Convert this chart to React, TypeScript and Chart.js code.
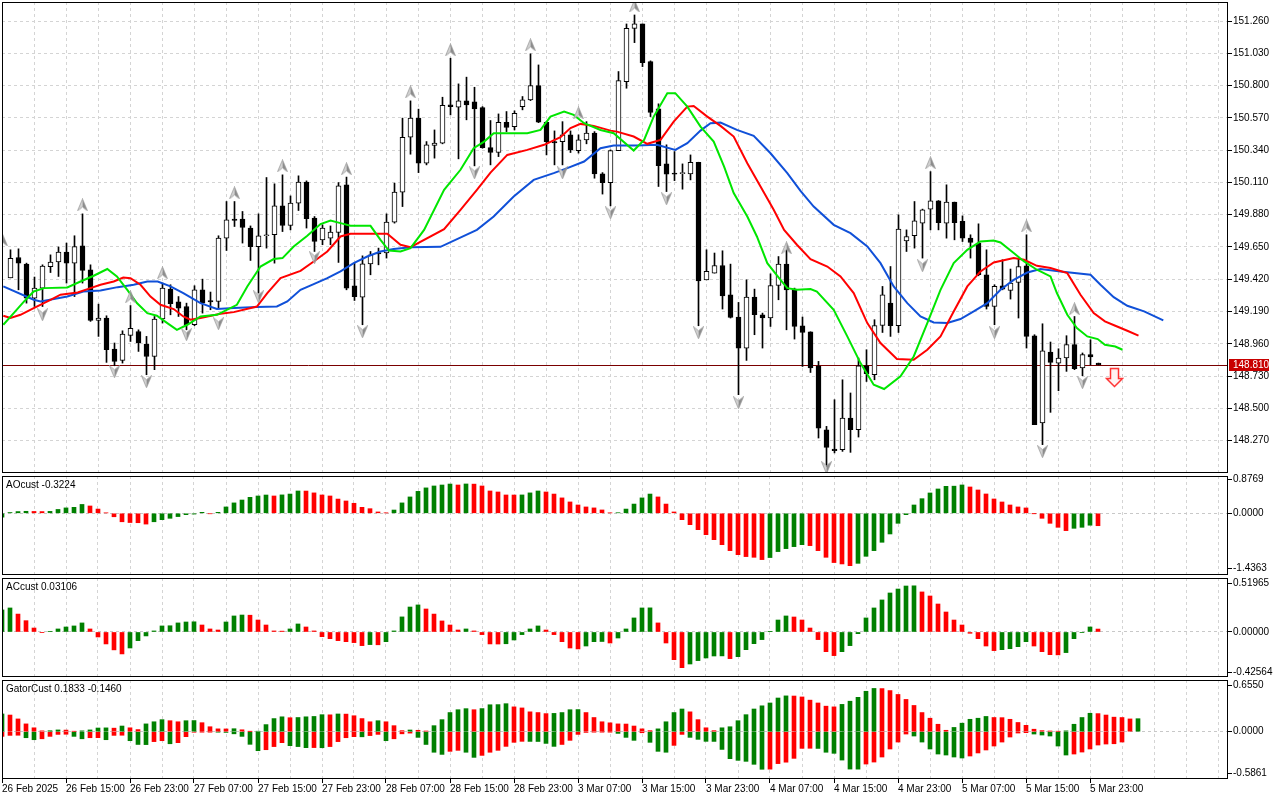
import React, { useEffect, useRef } from 'react';
import { Chart, registerables } from 'chart.js';

Chart.register(...registerables);

// ---------------- data ----------------
// hourly bars, bar 0 = 26 Feb 08:00, bar 136 = 6 Mar 00:00
const timeLabels = ['26 Feb 2025', '26 Feb 15:00', '26 Feb 23:00', '27 Feb 07:00', '27 Feb 15:00', '27 Feb 23:00', '28 Feb 07:00', '28 Feb 15:00', '28 Feb 23:00', '3 Mar 07:00', '3 Mar 15:00', '3 Mar 23:00', '4 Mar 07:00', '4 Mar 15:00', '4 Mar 23:00', '5 Mar 07:00', '5 Mar 15:00', '5 Mar 23:00'];

const candleOpen = [149.43, 149.575, 149.528, 149.286, 149.357, 149.51, 149.543, 149.614, 149.535, 149.658,
  149.488, 149.127, 149.144, 148.923, 148.842, 149.02, 149.048, 148.959, 148.87, 149.137,
  149.35, 149.26, 149.226, 149.096, 149.345, 149.269, 149.262, 149.713, 149.849, 149.849,
  149.784, 149.653, 149.73, 149.737, 149.943, 149.803, 149.962, 150.112, 149.856, 149.701,
  149.713, 149.753, 150.093, 149.374, 149.293, 149.53, 149.61, 149.607, 149.827, 150.041,
  150.432, 150.568, 150.247, 150.373, 150.39, 150.662, 150.646, 150.691, 150.684, 150.643,
  150.358, 150.323, 150.539, 150.508, 150.65, 150.698, 150.8, 150.539, 150.401, 150.401,
  150.449, 150.337, 150.413, 150.461, 150.171, 150.109, 150.337, 150.828, 151.208, 151.239,
  150.971, 150.634, 150.242, 150.176, 150.173, 150.171, 150.254, 149.416, 149.464, 149.518,
  149.31, 149.151, 148.93, 149.293, 149.167, 149.144, 149.376, 149.528, 149.35, 149.089,
  149.046, 148.799, 148.348, 148.211, 148.206, 148.432, 148.348, 148.804, 148.74, 149.091,
  149.25, 149.089, 149.694, 149.73, 149.82, 149.92, 149.979, 149.82, 149.97, 149.832,
  149.713, 149.678, 149.452, 149.226, 149.374, 149.34, 149.397, 149.516, 149.018, 148.396,
  148.902, 148.823, 148.859, 148.954, 148.788, 148.883, 148.823];

const candleHigh = [149.63, 149.637, 149.535, 149.436, 149.523, 149.594, 149.65, 149.678, 149.73, 149.886,
  149.523, 149.243, 149.16, 148.966, 149.053, 149.233, 149.06, 149.013, 149.155, 149.393,
  149.381, 149.297, 149.25, 149.374, 149.421, 149.329, 149.73, 149.974, 149.974, 149.903,
  149.8, 149.886, 150.145, 150.1, 150.164, 150.014, 150.157, 150.121, 149.867, 149.808,
  149.8, 150.109, 150.148, 149.535, 149.587, 149.618, 149.642, 149.886, 150.105, 150.568,
  150.691, 150.632, 150.401, 150.484, 150.717, 150.995, 150.812, 150.86, 150.788, 150.65,
  150.551, 150.598, 150.615, 150.62, 150.722, 151.026, 150.947, 150.543, 150.477, 150.543,
  150.477, 150.449, 150.543, 150.472, 150.18, 150.342, 150.9, 151.239, 151.303, 151.239,
  150.976, 150.67, 150.378, 150.33, 150.242, 150.306, 150.254, 149.63, 149.607, 149.623,
  149.528, 149.255, 149.416, 149.35, 149.179, 149.459, 149.582, 149.63, 149.357, 149.151,
  149.046, 148.835, 148.372, 148.562, 148.704, 148.61, 148.859, 148.918, 149.132, 149.369,
  149.511, 149.879, 149.772, 149.974, 149.92, 150.187, 149.981, 150.093, 149.97, 149.872,
  149.737, 149.815, 149.63, 149.381, 149.559, 149.493, 149.564, 149.737, 149.025, 149.103,
  148.973, 148.925, 149.018, 149.155, 148.895, 148.989, 148.823];

const candleLow = [149.43, 149.345, 149.25, 149.226, 149.226, 149.468, 149.44, 149.393, 149.297, 149.393,
  149.12, 149.013, 148.828, 148.804, 148.823, 148.977, 148.906, 148.74, 148.776, 149.108,
  149.167, 149.155, 149.06, 149.089, 149.179, 149.203, 149.215, 149.625, 149.796, 149.678,
  149.554, 149.322, 149.642, 149.535, 149.76, 149.772, 149.91, 149.785, 149.618, 149.666,
  149.666, 149.54, 149.345, 149.269, 149.096, 149.452, 149.523, 149.571, 149.82, 149.938,
  150.311, 150.18, 150.235, 150.283, 150.385, 150.591, 150.278, 150.556, 150.228, 150.354,
  150.235, 150.294, 150.472, 150.484, 150.627, 150.693, 150.536, 150.306, 150.235, 150.235,
  150.323, 150.319, 150.385, 150.14, 150.027, 149.943, 150.337, 150.781, 151.106, 150.935,
  150.579, 150.081, 150.045, 150.123, 150.062, 150.128, 149.089, 149.416, 149.464, 149.208,
  149.144, 148.598, 148.842, 149.025, 148.93, 149.084, 149.274, 149.06, 148.994, 148.799,
  148.756, 148.289, 148.087, 148.183, 148.194, 148.187, 148.296, 148.692, 148.704, 149.041,
  149.013, 149.041, 149.618, 149.642, 149.571, 149.772, 149.772, 149.713, 149.701, 149.689,
  149.571, 149.445, 149.208, 149.096, 149.345, 149.279, 149.144, 148.93, 148.384, 148.242,
  148.472, 148.626, 148.764, 148.776, 148.733, 148.81, 148.81];

const candleClose = [149.57, 149.535, 149.286, 149.357, 149.514, 149.543, 149.614, 149.535, 149.653, 149.483,
  149.127, 149.144, 148.918, 148.835, 149.03, 149.07, 148.966, 148.87, 149.137, 149.357,
  149.246, 149.215, 149.096, 149.345, 149.25, 149.258, 149.713, 149.844, 149.839, 149.789,
  149.653, 149.73, 149.737, 149.943, 149.803, 149.962, 150.112, 149.851, 149.689, 149.785,
  149.756, 150.086, 149.357, 149.297, 149.53, 149.594, 149.6, 149.827, 150.041, 150.432,
  150.568, 150.247, 150.378, 150.39, 150.66, 150.65, 150.691, 150.662, 150.634, 150.358,
  150.323, 150.539, 150.501, 150.603, 150.698, 150.8, 150.539, 150.401, 150.392, 150.449,
  150.342, 150.413, 150.461, 150.171, 150.109, 150.337, 150.835, 151.208, 151.239, 150.964,
  150.608, 150.23, 150.169, 150.169, 150.176, 150.254, 149.409, 149.476, 149.518, 149.302,
  149.148, 148.93, 149.293, 149.167, 149.144, 149.376, 149.528, 149.345, 149.084, 149.041,
  148.788, 148.36, 148.222, 148.199, 148.432, 148.348, 148.804, 148.747, 149.091, 149.31,
  149.089, 149.777, 149.725, 149.837, 149.915, 149.979, 149.824, 149.97, 149.824, 149.713,
  149.682, 149.452, 149.226, 149.369, 149.35, 149.393, 149.511, 149.013, 148.384, 148.911,
  148.828, 148.859, 148.954, 148.783, 148.883, 148.866, 148.81];

const lastPrice = 148.81;
const priceTicks = [148.27, 148.5, 148.73, 148.96, 149.19, 149.42, 149.65, 149.88, 150.11, 150.34, 150.57, 150.8, 151.03, 151.26];

// Alligator lines: [bar, price]
const lips: [number, number][] = [[-0.9, 149.096], [0.4, 149.179], [1.7, 149.262], [2.9, 149.333], [4.2, 149.357], [7.1, 149.362], [8.75, 149.404], [10.4, 149.445], [12.1, 149.493], [13.3, 149.44], [14.6, 149.345], [15.8, 149.251], [17.1, 149.179], [18.3, 149.16], [19.6, 149.108], [20.8, 149.06], [22.1, 149.096], [23.75, 149.155], [25.8, 149.167], [28.3, 149.238], [29.6, 149.369], [31.25, 149.511], [32.9, 149.564], [34, 149.571], [35.4, 149.654], [37.1, 149.73], [38.75, 149.813], [40, 149.839], [41.25, 149.82], [42.5, 149.801], [45, 149.801], [46.25, 149.701], [47.3, 149.625], [48.75, 149.618], [50, 149.642], [51.7, 149.772], [54.2, 150.057], [56.25, 150.2], [57.9, 150.354], [59.2, 150.401], [60.4, 150.461], [62.1, 150.461], [64.6, 150.461], [66.25, 150.484], [67.5, 150.579], [69.2, 150.615], [70.4, 150.591], [71.7, 150.532], [73.75, 150.484], [75.4, 150.461], [77.9, 150.337], [79.2, 150.413], [80.4, 150.579], [82.1, 150.746], [83.1, 150.746], [84.6, 150.65], [86.25, 150.508], [87.9, 150.401], [89.2, 150.223], [90.4, 150.034], [92.1, 149.867], [93.3, 149.725], [94.6, 149.535], [96.25, 149.416], [97.1, 149.357], [98.3, 149.345], [100, 149.35], [100.8, 149.333], [102.9, 149.203], [104.6, 149.013], [106.25, 148.823], [107.9, 148.669], [109.2, 148.638], [111.25, 148.728], [112.9, 148.87], [114.6, 149.108], [116.25, 149.345], [117.9, 149.535], [119.6, 149.63], [121.25, 149.689], [122.9, 149.696], [123.75, 149.682], [125.4, 149.607], [126.7, 149.547], [128.3, 149.488], [130, 149.44], [130.8, 149.322], [132.1, 149.167], [133.3, 149.072], [134.6, 149.013], [135.9, 148.994], [136.8, 148.954], [138.1, 148.941], [139, 148.918]];

const teeth: [number, number][] = [[-0.9, 149.16], [0, 149.144], [1.25, 149.167], [2.9, 149.215], [5, 149.274], [6.25, 149.31], [8.4, 149.326], [10, 149.357], [11.25, 149.381], [12.9, 149.404], [14.1, 149.433], [15, 149.428], [16.25, 149.381], [17.5, 149.297], [18.75, 149.238], [20.4, 149.208], [21.6, 149.155], [22.5, 149.132], [23.75, 149.144], [26.25, 149.174], [27.9, 149.186], [30.8, 149.226], [32.1, 149.322], [33.75, 149.428], [36.25, 149.48], [37.9, 149.547], [39.6, 149.618], [41.25, 149.725], [42.5, 149.744], [47.1, 149.744], [48.75, 149.666], [50, 149.649], [54.2, 149.777], [56.25, 149.915], [58.3, 150.057], [60, 150.18], [62.1, 150.306], [64.6, 150.342], [66.7, 150.378], [68.75, 150.432], [70, 150.497], [71.25, 150.527], [72.9, 150.513], [75, 150.479], [75.8, 150.472], [77.9, 150.437], [79.6, 150.385], [81.25, 150.413], [82.9, 150.543], [84.6, 150.65], [85.4, 150.655], [87.1, 150.579], [88.75, 150.513], [90.4, 150.437], [92.1, 150.247], [93.75, 150.081], [95.4, 149.915], [96.7, 149.772], [98.3, 149.666], [100, 149.564], [102.1, 149.511], [103.75, 149.44], [105.4, 149.322], [107.1, 149.108], [108.75, 148.966], [110.8, 148.852], [112.9, 148.847], [114.6, 148.918], [116.25, 149.013], [117.9, 149.191], [119.6, 149.369], [121.25, 149.476], [122.9, 149.54], [125.4, 149.571], [126.7, 149.559], [128.3, 149.516], [130, 149.5], [132.1, 149.464], [133.75, 149.31], [135.4, 149.179], [136.8, 149.12], [138.1, 149.089], [139.6, 149.053], [141, 149.018]];

const jaw: [number, number][] = [[-0.9, 149.369], [2.9, 149.274], [3.75, 149.262], [7.1, 149.297], [9.1, 149.333], [11.25, 149.34], [13.4, 149.364], [15.4, 149.381], [17.1, 149.404], [18.4, 149.404], [20, 149.369], [21.6, 149.322], [23.75, 149.25], [25.8, 149.208], [27.9, 149.215], [30.8, 149.222], [33.3, 149.226], [34.6, 149.262], [36.25, 149.345], [37.9, 149.386], [39.6, 149.428], [41.25, 149.476], [42.9, 149.535], [44.6, 149.582], [46.25, 149.618], [47.9, 149.635], [50, 149.649], [53.75, 149.651], [58.3, 149.772], [60.4, 149.867], [62.9, 150.01], [65.4, 150.128], [67.9, 150.176], [69.6, 150.212], [71.7, 150.259], [73.75, 150.354], [75.4, 150.373], [78.3, 150.373], [80.8, 150.378], [83.1, 150.342], [84.6, 150.39], [86.25, 150.479], [87.5, 150.532], [88.75, 150.536], [90.8, 150.484], [92.9, 150.442], [95, 150.318], [97.1, 150.176], [98.75, 150.05], [100.4, 149.938], [102.9, 149.808], [105, 149.749], [107.1, 149.654], [108.75, 149.535], [110.4, 149.369], [112.1, 149.25], [113.75, 149.155], [115.4, 149.112], [117.1, 149.108], [118.75, 149.137], [120.4, 149.191], [122.1, 149.25], [123.75, 149.345], [125.4, 149.416], [127.1, 149.468], [128.75, 149.493], [131.25, 149.476], [135, 149.452], [136.25, 149.381], [137.9, 149.293], [139.6, 149.231], [141.7, 149.191], [144.1, 149.127]];

// Fractal marks: [bar, price of the mark]
const fractalsUp: [number, number][] = [[-1, 149.7], [9, 149.95], [15, 149.295], [19, 149.466], [28, 150.036], [34, 150.228], [42, 150.207], [50, 150.755], [55, 151.054], [65, 151.09], [71, 150.605], [78, 151.367], [97, 149.644], [115, 150.25], [127, 149.8], [133, 149.21]];
const fractalsDown: [number, number][] = [[4, 149.167], [13, 148.761], [17, 148.69], [22, 149.025], [26, 149.103], [31, 149.295], [38, 149.573], [44, 149.046], [58, 150.178], [69, 150.178], [75, 149.893], [82, 149.993], [86, 149.039], [91, 148.54], [102, 148.078], [114, 149.516], [123, 149.039], [129, 148.192], [134, 148.683]];
const sellSignal: [number, number] = [138, 148.72];

// Indicator panes, first value at bar -1
const indicatorStart = -1;
const aoValues = [-0.10, 0.02, 0.045, 0.052, 0.048, 0.045, 0.05, 0.10, 0.14, 0.155,
  0.23, 0.19, 0.11, 0.01, -0.09, -0.22, -0.24, -0.245, -0.28, -0.22,
  -0.165, -0.13, -0.085, -0.035, -0.02, 0.025, -0.01, 0.025, 0.165, 0.27,
  0.345, 0.415, 0.45, 0.475, 0.45, 0.478, 0.50, 0.58, 0.578, 0.53,
  0.476, 0.45, 0.37, 0.32, 0.26, 0.155, 0.12, 0.035, 0.01, 0.085,
  0.27, 0.425, 0.57, 0.66, 0.71, 0.735, 0.76, 0.735, 0.762, 0.758,
  0.71, 0.58, 0.554, 0.476, 0.475, 0.477, 0.53, 0.58, 0.554, 0.50,
  0.40, 0.295, 0.216, 0.165, 0.14, 0.087, 0.01, 0.015, 0.11, 0.24,
  0.40, 0.50, 0.425, 0.24, 0.035, -0.165, -0.295, -0.425, -0.555, -0.685,
  -0.815, -0.97, -1.075, -1.125, -1.143, -1.203, -1.15, -0.995, -0.918, -0.866,
  -0.815, -0.84, -0.97, -1.143, -1.28, -1.316, -1.36, -1.30, -1.117, -0.97,
  -0.753, -0.537, -0.26, -0.035, 0.216, 0.38, 0.528, 0.632, 0.70, 0.705,
  0.736, 0.684, 0.606, 0.502, 0.372, 0.294, 0.216, 0.165, 0.139, -0.005,
  -0.13, -0.26, -0.364, -0.45, -0.39, -0.364, -0.31, -0.3224];

const acValues = [0.234, 0.255, 0.19, 0.12, 0.042, -0.007, 0.007, 0.032, 0.053, 0.064,
  0.096, 0.032, -0.053, -0.127, -0.19, -0.233, -0.17, -0.092, -0.042, 0.011,
  0.064, 0.066, 0.096, 0.106, 0.108, 0.074, 0.032, 0.021, 0.106, 0.17,
  0.18, 0.178, 0.127, 0.074, 0.011, 0.009, 0.032, 0.085, 0.053, 0.011,
  -0.05, -0.071, -0.092, -0.103, -0.113, -0.145, -0.134, -0.136, -0.103, 0.011,
  0.16, 0.265, 0.287, 0.244, 0.19, 0.117, 0.074, 0.021, 0.032, 0.011,
  -0.028, -0.127, -0.128, -0.125, -0.085, -0.028, 0.032, 0.064, 0.021, -0.028,
  -0.103, -0.17, -0.18, -0.149, -0.103, -0.101, -0.117, -0.064, 0.032, 0.149,
  0.255, 0.256, 0.096, -0.117, -0.294, -0.379, -0.34, -0.304, -0.276, -0.255,
  -0.254, -0.283, -0.262, -0.188, -0.124, -0.081, 0.003, 0.127, 0.17, 0.159,
  0.127, 0.042, -0.081, -0.209, -0.251, -0.209, -0.145, -0.018, 0.149, 0.255,
  0.34, 0.414, 0.456, 0.488, 0.49, 0.425, 0.382, 0.297, 0.212, 0.127,
  0.074, -0.014, -0.071, -0.149, -0.198, -0.188, -0.177, -0.156, -0.103, -0.149,
  -0.209, -0.241, -0.243, -0.219, -0.071, -0.007, 0.053, 0.03106];

const gatorUpper = [0.25, 0.235, 0.18, 0.11, 0.055, 0.012, 0.014, 0.025, 0.023, 0.005,
  0.012, 0.025, 0.052, 0.054, 0.05, 0.08, 0.055, 0.03, 0.11, 0.14,
  0.17, 0.155, 0.14, 0.155, 0.157, 0.127, 0.07, 0.04, 0.039, 0.042,
  0.027, 0.003, 0.006, 0.10, 0.185, 0.21, 0.197, 0.2, 0.21, 0.215,
  0.24, 0.238, 0.25, 0.248, 0.225, 0.185, 0.14, 0.155, 0.14, 0.085,
  0.015, 0.024, 0.02, 0.01, 0.085, 0.17, 0.27, 0.31, 0.325, 0.31,
  0.326, 0.38, 0.382, 0.395, 0.35, 0.335, 0.28, 0.27, 0.255, 0.258,
  0.27, 0.31, 0.312, 0.27, 0.2, 0.14, 0.125, 0.11, 0.108, 0.08,
  0.04, 0.015, 0.04, 0.14, 0.27, 0.32, 0.28, 0.17, 0.055, 0.015,
  0.055, 0.07, 0.155, 0.24, 0.32, 0.365, 0.405, 0.475, 0.505, 0.503,
  0.49, 0.445, 0.405, 0.36, 0.35, 0.385, 0.43, 0.485, 0.57, 0.61,
  0.608, 0.58, 0.525, 0.455, 0.37, 0.27, 0.19, 0.105, 0.02, 0.06,
  0.12, 0.175, 0.19, 0.215, 0.2, 0.198, 0.175, 0.13, 0.09, 0.035,
  0.015, 0.01, 0.005, 0.012, 0.105, 0.2, 0.26, 0.255, 0.235, 0.205,
  0.2, 0.18, 0.1833];

const gatorLower = [-0.066, -0.052, -0.05, -0.085, -0.113, -0.1, -0.066, -0.038, -0.036, -0.066,
  -0.1, -0.085, -0.084, -0.113, -0.052, -0.05, -0.127, -0.18, -0.182, -0.14,
  -0.127, -0.17, -0.155, -0.07, -0.008, -0.004, -0.003, -0.005, -0.01, -0.03,
  -0.066, -0.178, -0.268, -0.254, -0.21, -0.155, -0.197, -0.21, -0.225, -0.224,
  -0.226, -0.21, -0.14, -0.085, -0.07, -0.072, -0.055, -0.038, -0.127, -0.1,
  -0.03, -0.02, -0.08, -0.18, -0.29, -0.32, -0.277, -0.263, -0.29, -0.362,
  -0.334, -0.29, -0.263, -0.207, -0.15, -0.136, -0.137, -0.138, -0.165, -0.207,
  -0.18, -0.122, -0.038, -0.01, -0.005, -0.003, -0.002, -0.024, -0.08, -0.122,
  -0.015, -0.15, -0.277, -0.29, -0.193, -0.038, -0.08, -0.108, -0.136, -0.137,
  -0.25, -0.38, -0.404, -0.418, -0.46, -0.53, -0.528, -0.45, -0.43, -0.376,
  -0.235, -0.234, -0.236, -0.29, -0.305, -0.40, -0.527, -0.528, -0.456, -0.428,
  -0.357, -0.244, -0.146, -0.033, -0.061, -0.146, -0.244, -0.315, -0.329, -0.357,
  -0.371, -0.343, -0.3, -0.258, -0.202, -0.146, -0.075, -0.019, -0.014, -0.033,
  -0.047, -0.061, -0.202, -0.329, -0.315, -0.287, -0.244, -0.188, -0.174, -0.17,
  -0.146];

const aoTicks = [-1.4363, 0, 0.8769];
const acTicks = [-0.42564, 0, 0.51965];
const gatorTicks = [-0.5861, 0, 0.655];

// ---------------- styling ----------------
const W = 1280;
const AREA_LEFT = 2;
const AXIS_W = 52;
const PX_PER_BAR = 8;
const SPAN = (W - AREA_LEFT - AXIS_W) / PX_PER_BAR;
const GREEN = '#008000';
const RED = '#ff0000';
const GRID = '#d4d4d4';
const FAMILY = '"Liberation Sans", Arial, Helvetica, sans-serif';
const FONT = { family: FAMILY, size: 10 };
const gridBars = Array.from({ length: 40 }, (_, j) => -1 + 4 * j);

function xAxis(min: number, withLabels: boolean): any {
  return {
    type: 'linear',
    min,
    max: min + SPAN,
    offset: false,
    grid: {
      offset: false,
      color: GRID,
      lineWidth: 1,
      drawTicks: withLabels,
      tickLength: 4,
      tickBorderDash: [4, 0],
      tickColor: (c: any) => (c.index % 2 === 0 && c.index / 2 < timeLabels.length ? '#000' : 'rgba(0,0,0,0)'),
    },
    border: { display: false, dash: [3, 3] },
    ticks: {
      display: withLabels,
      autoSkip: false,
      maxRotation: 0,
      minRotation: 0,
      align: 'start',
      padding: 0,
      color: '#000',
      font: FONT,
      callback: (_v: any, i: number) => (i % 2 === 0 && i / 2 < timeLabels.length ? timeLabels[i / 2] : ''),
    },
    afterBuildTicks: (s: any) => {
      s.ticks = gridBars.filter((v) => v <= s.max).map((v) => ({ value: v }));
    },
    afterFit: (s: any) => {
      s.height = withLabels ? 21 : 0;
      s.paddingLeft = 0;
      s.paddingRight = 0;
    },
  };
}

function yAxis(min: number, max: number, tickVals: number[], digits: number, zeroOnly: boolean): any {
  return {
    type: 'linear',
    position: 'right',
    min,
    max,
    grid: {
      color: zeroOnly ? (c: any) => (c.tick && c.tick.value === 0 ? '#c8c8c8' : 'rgba(0,0,0,0)') : GRID,
      lineWidth: 1,
      drawTicks: true,
      tickLength: 4,
      tickBorderDash: [4, 0],
      tickColor: '#000',
      tickWidth: 1,
    },
    border: { display: false, dash: [3, 3] },
    ticks: {
      autoSkip: false,
      padding: 1,
      color: '#000',
      font: FONT,
      callback: (v: any) => Number(v).toFixed(digits),
    },
    afterBuildTicks: (s: any) => {
      s.ticks = tickVals.map((v) => ({ value: v }));
    },
    afterFit: (s: any) => {
      s.width = AXIS_W;
      s.paddingTop = 0;
      s.paddingBottom = 0;
    },
  };
}

const framePlugin = {
  id: 'paneFrame',
  afterDraw(chart: any) {
    const { ctx, chartArea: a } = chart;
    ctx.save();
    ctx.strokeStyle = '#000';
    ctx.lineWidth = 1;
    ctx.setLineDash([]);
    ctx.strokeRect(a.left + 0.5, a.top + 0.5, a.right - a.left - 1, a.bottom - a.top - 1);
    ctx.restore();
  },
};

function titlePlugin(text: string) {
  return {
    id: 'paneTitle',
    afterDraw(chart: any) {
      const { ctx, chartArea: a } = chart;
      ctx.save();
      ctx.font = `10px ${FAMILY}`;
      ctx.fillStyle = '#000';
      ctx.textBaseline = 'middle';
      ctx.textAlign = 'left';
      ctx.fillText(text, a.left + 4, a.top + 9);
      ctx.restore();
    },
  };
}

const priceLinePlugin = {
  id: 'priceLine',
  beforeDatasetsDraw(chart: any) {
    const { ctx, chartArea: a } = chart;
    const y = Math.round(chart.scales.y.getPixelForValue(lastPrice)) + 0.5;
    ctx.save();
    ctx.strokeStyle = '#7a0000';
    ctx.lineWidth = 1;
    ctx.beginPath();
    ctx.moveTo(a.left, y);
    ctx.lineTo(a.right, y);
    ctx.stroke();
    ctx.restore();
  },
  afterDraw(chart: any) {
    const { ctx, chartArea: a } = chart;
    const y = Math.round(chart.scales.y.getPixelForValue(lastPrice));
    ctx.save();
    ctx.fillStyle = '#c80000';
    ctx.fillRect(a.right + 1, y - 6, 40, 12);
    ctx.font = `10px ${FAMILY}`;
    ctx.fillStyle = '#fff';
    ctx.textBaseline = 'middle';
    ctx.textAlign = 'left';
    ctx.fillText(lastPrice.toFixed(3), a.right + 5, y + 0.5);
    ctx.restore();
  },
};

function makeFractalMark(down: boolean): HTMLCanvasElement {
  const c = document.createElement('canvas');
  c.width = 11;
  c.height = 13;
  const g = c.getContext('2d')!;
  if (down) {
    g.translate(0, 13);
    g.scale(1, -1);
  }
  g.beginPath();
  g.moveTo(5.5, 0.5);
  g.lineTo(5.5, 8.5);
  g.lineTo(0.5, 12.5);
  g.closePath();
  g.fillStyle = '#d2d2d2';
  g.fill();
  g.beginPath();
  g.moveTo(5.5, 0.5);
  g.lineTo(10.5, 12.5);
  g.lineTo(5.5, 8.5);
  g.closePath();
  g.fillStyle = '#8c8c8c';
  g.fill();
  g.beginPath();
  g.moveTo(5.5, 0.5);
  g.lineTo(10.5, 12.5);
  g.lineTo(5.5, 8.5);
  g.lineTo(0.5, 12.5);
  g.closePath();
  g.strokeStyle = '#9c9c9c';
  g.lineWidth = 0.8;
  g.stroke();
  return c;
}

function makeSellArrow(): HTMLCanvasElement {
  const c = document.createElement('canvas');
  c.width = 19;
  c.height = 21;
  const g = c.getContext('2d')!;
  g.beginPath();
  g.moveTo(5.5, 1.5);
  g.lineTo(13.5, 1.5);
  g.lineTo(13.5, 11.5);
  g.lineTo(17.5, 11.5);
  g.lineTo(9.5, 19.5);
  g.lineTo(1.5, 11.5);
  g.lineTo(5.5, 11.5);
  g.closePath();
  g.fillStyle = '#fff4f4';
  g.fill();
  g.strokeStyle = '#ff3030';
  g.lineWidth = 1.5;
  g.stroke();
  return c;
}

function risingColors(vals: number[], byMagnitude: boolean, first: string): string[] {
  return vals.map((v, i) => {
    if (i === 0) return first;
    const a = byMagnitude ? Math.abs(v) : v;
    const b = byMagnitude ? Math.abs(vals[i - 1]) : vals[i - 1];
    return a > b ? GREEN : RED;
  });
}

const baseOptions = (padBottom: number) => ({
  responsive: false,
  maintainAspectRatio: false,
  animation: false,
  events: [],
  layout: { autoPadding: false, padding: { left: AREA_LEFT, right: 0, top: 2, bottom: padBottom } },
  plugins: { legend: { display: false }, tooltip: { enabled: false } },
});

function histDataset(vals: number[], colors: string[]): any {
  return {
    type: 'bar',
    data: vals.map((v, i) => ({ x: indicatorStart + i, y: v })),
    backgroundColor: colors,
    borderWidth: 0,
    barThickness: 4,
    grouped: false,
  };
}

export default function App() {
  const mainRef = useRef<HTMLCanvasElement>(null);
  const aoRef = useRef<HTMLCanvasElement>(null);
  const acRef = useRef<HTMLCanvasElement>(null);
  const gatorRef = useRef<HTMLCanvasElement>(null);

  useEffect(() => {
    document.body.style.margin = '0';
    document.body.style.background = '#ffffff';
    const charts: Chart[] = [];
    const upMark = makeFractalMark(false);
    const downMark = makeFractalMark(true);
    const sellMark = makeSellArrow();
    const bars = candleOpen.map((_, i) => i);

    const main = new Chart(mainRef.current!, {
      type: 'bar',
      data: {
        datasets: [
          {
            type: 'bar',
            data: bars.map((i) => ({ x: i, y: [candleLow[i], candleHigh[i]] })),
            backgroundColor: '#000',
            borderWidth: 0,
            barThickness: 1,
            grouped: false,
            order: 6,
          },
          {
            type: 'bar',
            data: bars.map((i) => ({
              x: i,
              y: [Math.min(candleOpen[i], candleClose[i]), Math.max(candleOpen[i], candleClose[i])],
            })),
            backgroundColor: bars.map((i) => (candleClose[i] >= candleOpen[i] ? '#ffffff' : '#000000')),
            borderColor: '#000',
            borderWidth: 1,
            borderSkipped: false,
            barThickness: 5,
            minBarLength: 1,
            grouped: false,
            order: 5,
          },
          {
            type: 'line',
            data: jaw.map(([x, y]) => ({ x, y })),
            borderColor: '#1050d8',
            borderWidth: 2,
            pointRadius: 0,
            tension: 0,
            order: 4,
          },
          {
            type: 'line',
            data: teeth.map(([x, y]) => ({ x, y })),
            borderColor: '#ff0000',
            borderWidth: 2,
            pointRadius: 0,
            tension: 0,
            order: 3,
          },
          {
            type: 'line',
            data: lips.map(([x, y]) => ({ x, y })),
            borderColor: '#00e600',
            borderWidth: 2,
            pointRadius: 0,
            tension: 0,
            order: 2,
          },
          {
            type: 'line',
            data: fractalsUp.map(([x, y]) => ({ x, y })),
            showLine: false,
            pointStyle: upMark,
            pointRadius: 6,
            order: 1,
          },
          {
            type: 'line',
            data: fractalsDown.map(([x, y]) => ({ x, y })),
            showLine: false,
            pointStyle: downMark,
            pointRadius: 6,
            order: 1,
          },
          {
            type: 'line',
            data: [{ x: sellSignal[0], y: sellSignal[1] }],
            showLine: false,
            pointStyle: sellMark,
            pointRadius: 9,
            order: 0,
          },
        ] as any,
      },
      options: {
        ...baseOptions(1),
        scales: {
          x: xAxis(-1 - 0.5 / PX_PER_BAR, false),
          y: yAxis(148.0399, 151.3954, priceTicks, 3, false),
        },
      } as any,
      plugins: [priceLinePlugin, framePlugin],
    });
    charts.push(main);

    charts.push(
      new Chart(aoRef.current!, {
        type: 'bar',
        data: { datasets: [histDataset(aoValues, risingColors(aoValues, false, GREEN))] },
        options: {
          ...baseOptions(1),
          scales: { x: xAxis(-1, false), y: yAxis(-1.603, 0.969, aoTicks, 4, true) },
        } as any,
        plugins: [framePlugin, titlePlugin(`AOcust ${aoValues[aoValues.length - 1].toFixed(4)}`)],
      })
    );

    charts.push(
      new Chart(acRef.current!, {
        type: 'bar',
        data: { datasets: [histDataset(acValues, risingColors(acValues, false, GREEN))] },
        options: {
          ...baseOptions(1),
          scales: { x: xAxis(-1, false), y: yAxis(-0.478, 0.573, acTicks, 5, true) },
        } as any,
        plugins: [framePlugin, titlePlugin(`ACcust ${acValues[acValues.length - 1].toFixed(5)}`)],
      })
    );

    charts.push(
      new Chart(gatorRef.current!, {
        type: 'bar',
        data: {
          datasets: [
            histDataset(gatorUpper, risingColors(gatorUpper, false, GREEN)),
            histDataset(gatorLower, risingColors(gatorLower, true, RED)),
          ],
        },
        options: {
          ...baseOptions(0),
          scales: { x: xAxis(-1, true), y: yAxis(-0.667, 0.729, gatorTicks, 4, true) },
        } as any,
        plugins: [
          framePlugin,
          titlePlugin(
            `GatorCust ${gatorUpper[gatorUpper.length - 1].toFixed(4)} ${gatorLower[gatorLower.length - 1].toFixed(4)}`
          ),
        ],
      })
    );

    return () => {
      charts.forEach((c) => c.destroy());
    };
  }, []);

  const cv = (top: number): React.CSSProperties => ({ position: 'absolute', left: 0, top, display: 'block' });

  return (
    <div style={{ position: 'relative', width: 1280, height: 800, background: '#ffffff', overflow: 'hidden' }}>
      <canvas ref={mainRef} width={1280} height={474} style={cv(0)} />
      <canvas ref={aoRef} width={1280} height={102} style={cv(474)} />
      <canvas ref={acRef} width={1280} height={102} style={cv(576)} />
      <canvas ref={gatorRef} width={1280} height={122} style={cv(678)} />
    </div>
  );
}
